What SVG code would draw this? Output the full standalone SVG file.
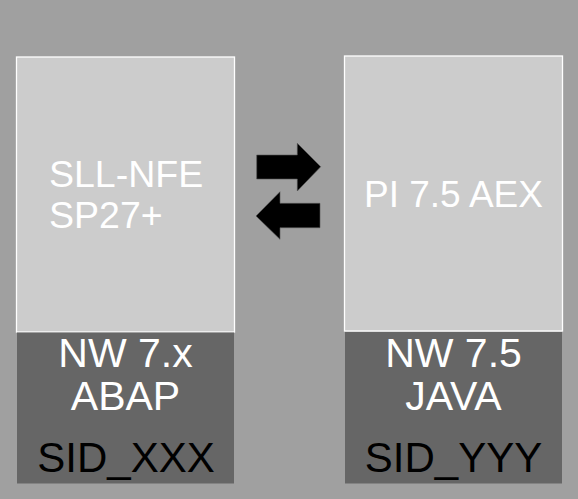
<svg xmlns="http://www.w3.org/2000/svg" width="578" height="499" viewBox="0 0 578 499">
<style>
.bg{fill:#a0a0a0}
.top{fill:#cccccc;stroke:#ffffff;stroke-width:1.3}
.base{fill:#666666}
.t{font-family:"Liberation Sans",Arial,sans-serif;fill:#ffffff}
.sid{font-family:"Liberation Sans",Arial,sans-serif;fill:#000000}
.arrow{fill:#000000;stroke:#555555;stroke-width:0.6}
</style>
<rect class="bg" x="0" y="0" width="578" height="499"/>
<g id="node-left">
<rect class="top" x="16.5" y="57" width="218" height="275"/>
<text class="t" x="49" y="187" font-size="37.5">SLL-NFE</text>
<text class="t" x="49" y="228" font-size="37.5">SP27+</text>
</g>
<g id="node-left-base">
<rect class="base" x="17" y="332.5" width="217" height="151"/>
<text class="t" x="125.5" y="366.5" font-size="41" text-anchor="middle">NW 7.x</text>
<text class="t" x="125.5" y="410" font-size="41" text-anchor="middle">ABAP</text>
<text class="sid" x="126" y="472" font-size="42" text-anchor="middle">SID_XXX</text>
</g>
<g id="node-right">
<rect class="top" x="344.5" y="56" width="218" height="275"/>
<text class="t" x="453.5" y="206.5" font-size="37" text-anchor="middle">PI 7.5 AEX</text>
</g>
<g id="node-right-base">
<rect class="base" x="345" y="332" width="217" height="151.5"/>
<text class="t" x="453.5" y="366.5" font-size="41" text-anchor="middle">NW 7.5</text>
<text class="t" x="453.5" y="410" font-size="41" text-anchor="middle">JAVA</text>
<text class="sid" x="453.5" y="472" font-size="42" text-anchor="middle">SID_YYY</text>
</g>
<g id="connectors">
<polygon class="arrow" points="256.7,155 297.3,155 297.3,143.3 320.7,166.7 297.3,191 297.3,179 256.7,179"/>
<polygon class="arrow" points="320,203.3 280,203.3 280,191.7 256,216 280,239.3 280,227.7 320,227.7"/>
</g>
</svg>
